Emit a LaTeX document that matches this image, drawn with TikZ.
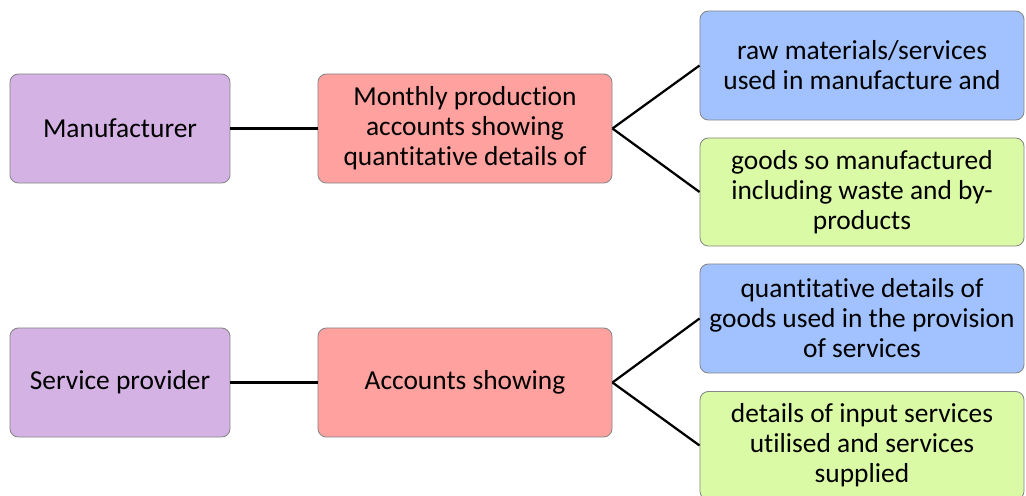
\documentclass[tikz,border=0pt]{standalone}
\usepackage{fontspec}
\setmainfont{Carlito}[Ligatures=NoCommon]
\usetikzlibrary{positioning}

\definecolor{whofill}{RGB}{212,178,228}
\definecolor{acctfill}{RGB}{255,161,158}
\definecolor{usedfill}{RGB}{161,194,255}
\definecolor{madefill}{RGB}{219,250,166}
\definecolor{boxline}{RGB}{135,135,135}

\begin{document}
\begin{tikzpicture}[x=0.025cm, y=-0.025cm,
        box/.style={draw=boxline, line width=0.6pt, rounded corners=6pt, align=center, inner sep=0pt,
            font=\fontsize{19.5}{21.3}\selectfont},
        whobox/.style={box, fill=whofill, minimum width=5.5cm, minimum height=2.725cm},
        acctbox/.style={box, fill=acctfill, minimum width=7.35cm, minimum height=2.725cm},
        usedbox/.style={box, fill=usedfill, minimum width=8.1cm, minimum height=2.725cm},
        madebox/.style={box, fill=madefill, minimum width=8.1cm, minimum height=2.7cm},
        link/.style={line width=1.6pt}]
        \useasboundingbox (0, 0) rectangle (1026, 495);

        % Manufacturer
        \node[whobox] (maker) at (120, 128.5) {Manufacturer};
        \node[acctbox] (monthly) at (465, 128.5) {Monthly production\\accounts showing\\quantitative details of};
        \node[usedbox] (raw) at (862, 65.5) {raw materials/services\\used in manufacture and};
        \node[madebox] (goods) at (862, 192) {goods so manufactured\\including waste and by-\\products};
        \draw[link] (maker) -- (monthly);
        \draw[link] (monthly.east) -- (raw.west);
        \draw[link] (monthly.east) -- (goods.west);

        % Service provider
        \node[whobox] (provider) at (120, 382.5) {Service provider};
        \node[acctbox] (showing) at (465, 382.5) {Accounts showing};
        \node[usedbox] (inputs) at (862, 318.5) {quantitative details of\\goods used in the provision\\of services};
        \node[madebox] (supplied) at (862, 445.5) {details of input services\\utilised and services\\supplied};
        \draw[link] (provider) -- (showing);
        \draw[link] (showing.east) -- (inputs.west);
        \draw[link] (showing.east) -- (supplied.west);
    \end{tikzpicture}
\end{document}
